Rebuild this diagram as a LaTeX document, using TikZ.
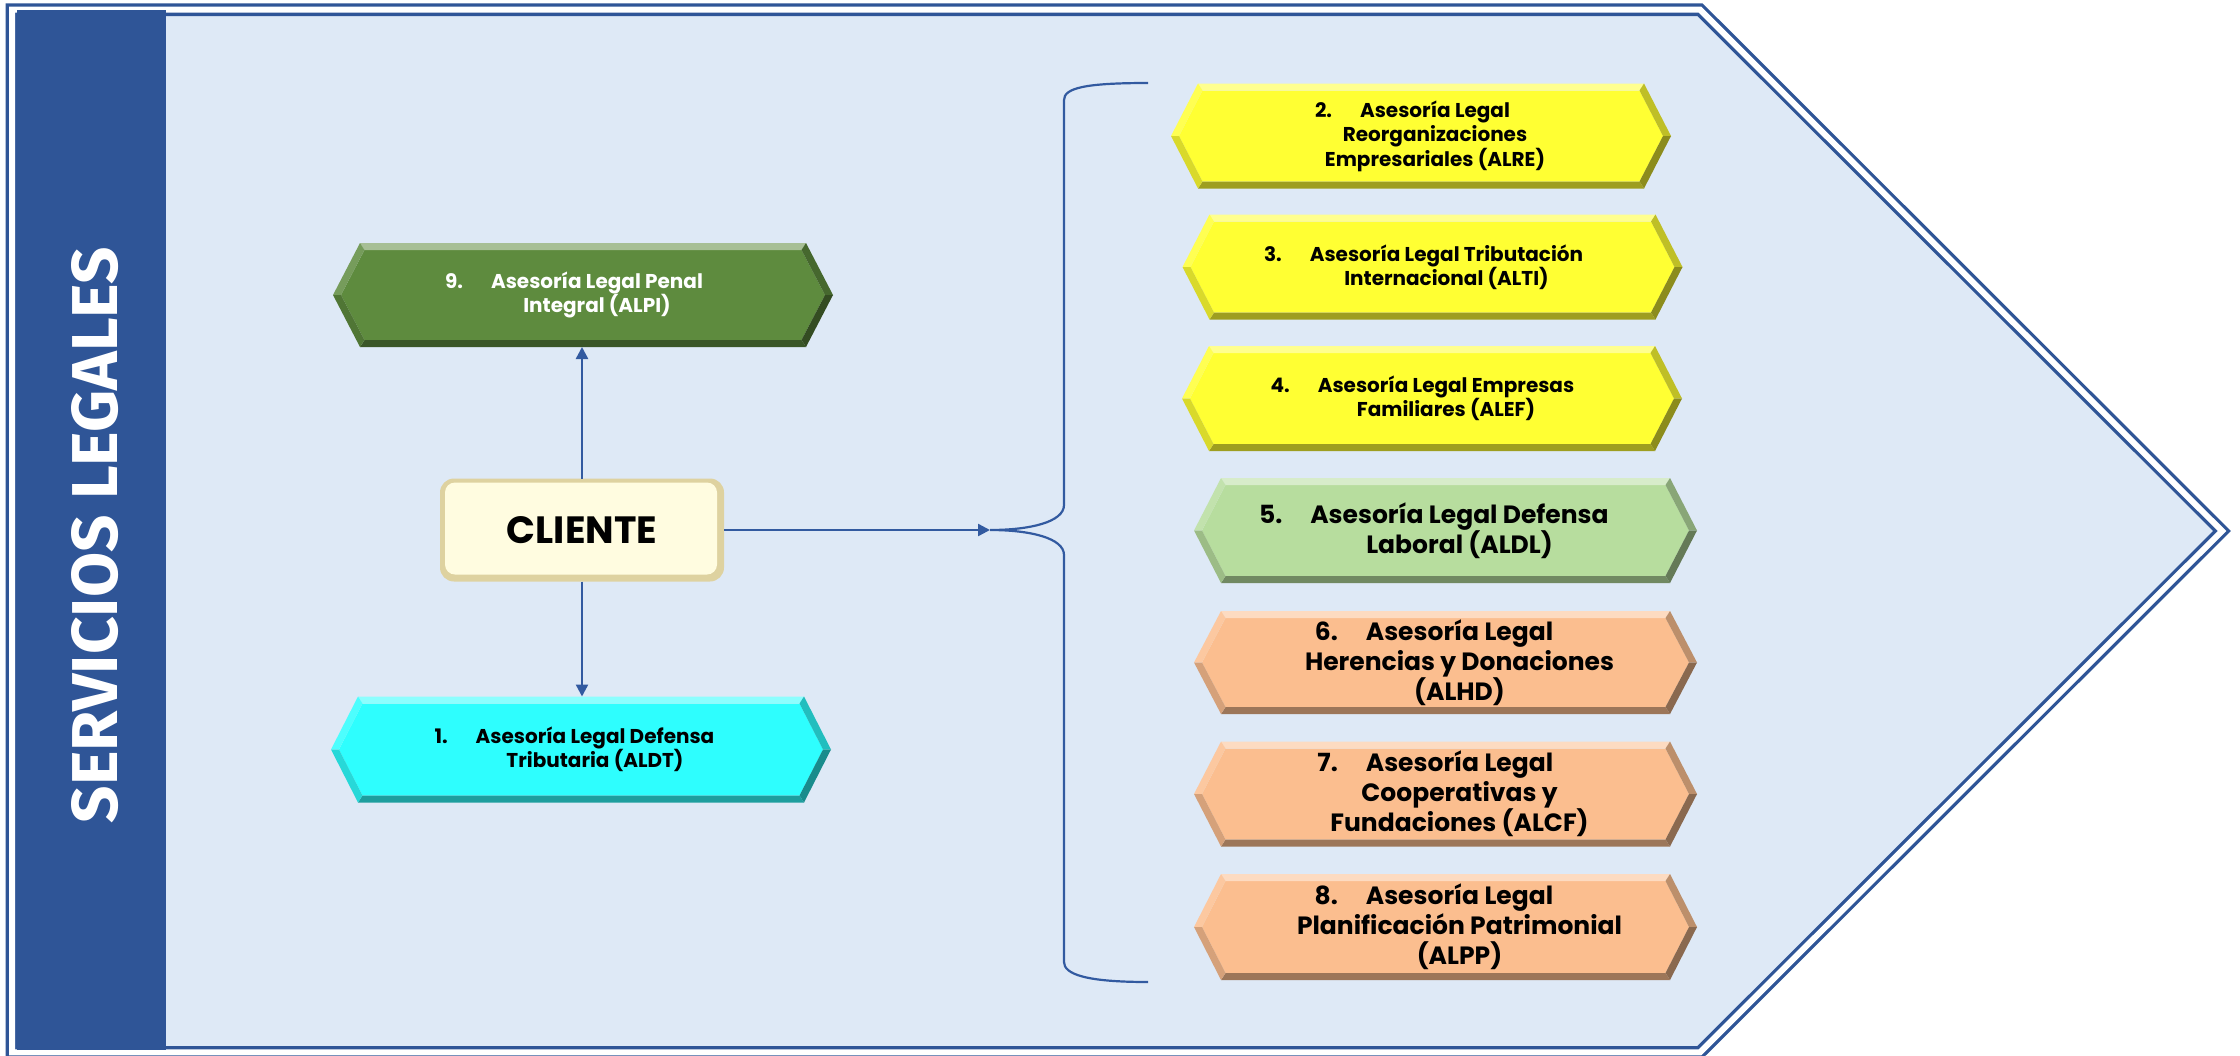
\documentclass[tikz,border=0pt]{standalone}
\usepackage{fontspec}
\setmainfont{Poppins}
\newfontfamily\condf{Fira Sans}
\usetikzlibrary{arrows.meta,calc}
\definecolor{bandblue}{RGB}{47,85,151}
\definecolor{bgblue}{RGB}{222,233,246}
\definecolor{linkblue}{RGB}{50,90,160}
\definecolor{dkgreen}{RGB}{94,139,62}
\definecolor{cyanbox}{RGB}{46,254,254}
\definecolor{yelbox}{RGB}{255,255,51}
\definecolor{ltgreen}{RGB}{183,221,158}
\definecolor{peach}{RGB}{251,190,143}
\definecolor{cream}{RGB}{255,252,224}
\definecolor{creamedge}{RGB}{222,210,160}
\newlength\numw
\newcommand\smallf{\fontsize{20}{24.5}\selectfont\bfseries}
\newcommand\largef{\fontsize{25}{30}\selectfont\bfseries}
\newcommand\bevhex[2]{%
 \coordinate (#1-L) at (#1.west);
 \coordinate (#1-TL) at ($(#1.north west)+(27,0)$);
 \coordinate (#1-TR) at ($(#1.north east)+(-27,0)$);
 \coordinate (#1-R) at (#1.east);
 \coordinate (#1-BR) at ($(#1.south east)+(-27,0)$);
 \coordinate (#1-BL) at ($(#1.south west)+(27,0)$);
 \coordinate (#1-iL) at ($(#1-L)+(8,0)$);
 \coordinate (#1-iTL) at ($(#1-TL)+(4.5,7)$);
 \coordinate (#1-iTR) at ($(#1-TR)+(-4.5,7)$);
 \coordinate (#1-iR) at ($(#1-R)+(-8,0)$);
 \coordinate (#1-iBR) at ($(#1-BR)+(-4.5,-7)$);
 \coordinate (#1-iBL) at ($(#1-BL)+(4.5,-7)$);
 \fill[#2] (#1-iL) -- (#1-iTL) -- (#1-iTR) -- (#1-iR) -- (#1-iBR) -- (#1-iBL) -- cycle;
 \fill[#2!55!white] (#1-TL) -- (#1-TR) -- (#1-iTR) -- (#1-iTL) -- cycle;
 \fill[#2!85!white] (#1-L) -- (#1-TL) -- (#1-iTL) -- (#1-iL) -- cycle;
 \fill[#2!75!black] (#1-TR) -- (#1-R) -- (#1-iR) -- (#1-iTR) -- cycle;
 \fill[#2!55!black] (#1-R) -- (#1-BR) -- (#1-iBR) -- (#1-iR) -- cycle;
 \fill[#2!62!black] (#1-BR) -- (#1-BL) -- (#1-iBL) -- (#1-iBR) -- cycle;
 \fill[#2!85!black] (#1-BL) -- (#1-L) -- (#1-iL) -- (#1-iBL) -- cycle;
}
\newcommand\hexlabel[6]{%
 \settowidth\numw{#5#3\hspace{28pt}}%
 \node[align=center, text=#6, font=#5, inner sep=0] (#1) at ([xshift=0.5\numw]#2.center) {\llap{#3\hspace{28pt}}#4};
}
\tikzset{
 hexframe/.style={rectangle, minimum width=500, minimum height=105, inner sep=0, outer sep=0},
 conn/.style={draw=linkblue, line width=2.4pt},
 tipc/.style={-{Triangle[length=12pt,width=12pt]}}
}
\begin{document}
\begin{tikzpicture}[x=1pt,y=-1pt]
\useasboundingbox[fill=white] (0,0) rectangle (2240,1055);
% pentagon background
\fill[bgblue] (12,9.7) -- (1700,9.7) -- (2222,531) -- (1700,1052.3) -- (12,1052.3) -- cycle;
\draw[bandblue, line width=3.3pt, double=white, double distance=6pt, line join=miter]
  (12,9.7) -- (1700,9.7) -- (2222,531) -- (1700,1052.3) -- (12,1052.3) -- cycle;
\fill[bandblue] (17,10) rectangle (166,1050);
\node[rotate=90, text=white, inner sep=0] (title) at (95,535) {\resizebox{576pt}{46pt}{\condf\bfseries SERVICIOS LEGALES}};
% brace
\coordinate (tip) at (990,530);
\coordinate (bracetop) at (1148,83);
\coordinate (bracebot) at (1148,982);
\draw[conn, line width=2.2pt] (bracetop) .. controls (1085,83) and (1064,88) .. (1064,100) -- (1064,505)
  .. controls (1064,522) and (1030,530) .. (tip)
  .. controls (1030,530) and (1064,538) .. (1064,555) -- (1064,962)
  .. controls (1064,974) and (1085,982) .. (bracebot);
% left boxes
\node[hexframe, minimum height=104] (b9) at (583,295) {};
\bevhex{b9}{dkgreen}
\hexlabel{b9t}{b9}{9.}{Asesoría Legal Penal\\Integral (ALPI)}{\smallf}{white}
\node[hexframe, minimum height=106] (b1) at (581,749.5) {};
\bevhex{b1}{cyanbox}
\hexlabel{b1t}{b1}{1.}{Asesoría Legal Defensa\\Tributaria (ALDT)}{\smallf}{black}
% cliente
\node[fill=creamedge, rounded corners=14pt, minimum width=284, minimum height=103, inner sep=0, outer sep=0] (cl) at (582,530) {};
\fill[cream, rounded corners=10pt] ($(cl.north west)+(5,4)$) rectangle ($(cl.south east)+(-7,-7)$);
\node[font=\fontsize{38}{40}\selectfont\bfseries, inner sep=0] (clt) at (cl.center) {CLIENTE};
% right boxes
\node[hexframe] (b2) at (1421,136) {};
\bevhex{b2}{yelbox}
\hexlabel{b2t}{b2}{2.}{Asesoría Legal\\Reorganizaciones\\Empresariales (ALRE)}{\smallf}{black}
\node[hexframe] (b3) at (1432.5,267) {};
\bevhex{b3}{yelbox}
\hexlabel{b3t}{b3}{3.}{Asesoría Legal Tributación\\Internacional (ALTI)}{\smallf}{black}
\node[hexframe] (b4) at (1432,398.5) {};
\bevhex{b4}{yelbox}
\hexlabel{b4t}{b4}{4.}{Asesoría Legal Empresas\\Familiares (ALEF)}{\smallf}{black}
\node[hexframe, minimum width=503] (b5) at (1445.5,530.5) {};
\bevhex{b5}{ltgreen}
\hexlabel{b5t}{b5}{5.}{Asesoría Legal Defensa\\Laboral (ALDL)}{\largef}{black}
\node[hexframe, minimum width=503, minimum height=103] (b6) at (1445.5,662.5) {};
\bevhex{b6}{peach}
\hexlabel{b6t}{b6}{6.}{Asesoría Legal\\Herencias y Donaciones\\(ALHD)}{\largef}{black}
\node[hexframe, minimum width=503] (b7) at (1445.5,794) {};
\bevhex{b7}{peach}
\hexlabel{b7t}{b7}{7.}{Asesoría Legal\\Cooperativas y\\Fundaciones (ALCF)}{\largef}{black}
\node[hexframe, minimum width=503, minimum height=106] (b8) at (1445.5,927) {};
\bevhex{b8}{peach}
\hexlabel{b8t}{b8}{8.}{Asesoría Legal\\Planificación Patrimonial\\(ALPP)}{\largef}{black}
% connectors
\draw[conn, tipc] (cl.north) -- (cl.north |- b9.south);
\draw[conn, tipc] (cl.south) -- (cl.south |- b1.north);
\draw[conn, tipc] (cl.east) -- (tip);
\end{tikzpicture}
\end{document}
